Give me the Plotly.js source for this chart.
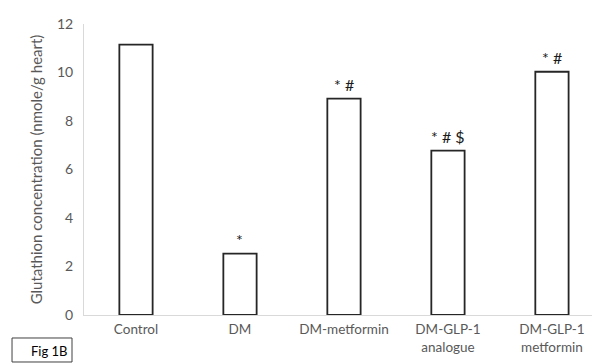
<!DOCTYPE html>
<html>
<head>
<meta charset="utf-8">
<script src="https://cdn.plot.ly/plotly-3.0.1.min.js"></script>
<style>html,body{margin:0;padding:0;background:#fff;}#chart{width:592px;height:363px;}</style>
</head>
<body>
<div id="chart"></div>
<script>
var categories = ["Control", "DM", "DM-metformin", "DM-GLP-1<br>analogue", "DM-GLP-1<br>metformin"];
var values = [11.15, 2.53, 8.92, 6.78, 10.03];
var markers = ["", "*", "* #", "* # $", "* #"];
var yTicks = [0, 2, 4, 6, 8, 10, 12];

var FONT = "Lato, 'Open Sans', sans-serif";
var GREY = "#595959";

var trace = {
  type: "bar",
  x: categories,
  y: values,
  width: 0.32,
  marker: {color: "#ffffff", line: {color: "#262626", width: 1.8}},
  hoverinfo: "none"
};

var annotations = categories.map(function (c, i) {
  return {
    x: c, y: values[i], xref: "x", yref: "y",
    text: markers[i], showarrow: false,
    yanchor: "bottom", yshift: 3,
    font: {family: FONT, size: 16, color: "#1a1a1a"}
  };
}).filter(function (a) { return a.text !== ""; });

annotations.push({
  xref: "paper", yref: "paper",
  x: -0.03, y: -0.122,
  xanchor: "right", yanchor: "middle",
  text: "Fig 1B", showarrow: false,
  font: {family: FONT, size: 13, color: "#000000"}
});

var layout = {
  width: 592, height: 363,
  margin: {l: 84, r: 0, t: 24, b: 48},
  paper_bgcolor: "#ffffff", plot_bgcolor: "#ffffff",
  showlegend: false,
  bargap: 0,
  xaxis: {
    type: "category",
    range: [-0.5, 4.385],
    showgrid: false, zeroline: false,
    showline: true, linecolor: "#d9d9d9", linewidth: 1,
    ticks: "",
    ticklabelstandoff: 2,
    tickfont: {family: FONT, size: 13.5, color: GREY},
    fixedrange: true
  },
  yaxis: {
    range: [0, 12],
    tickvals: yTicks,
    ticktext: yTicks.map(String),
    showgrid: false, zeroline: false,
    showline: true, linecolor: "#d9d9d9", linewidth: 1,
    ticks: "",
    ticklabelstandoff: 7,
    tickfont: {family: FONT, size: 14, color: GREY},
    title: {text: "Glutathion concentration (nmole/g heart)", standoff: 10,
            font: {family: FONT, size: 15, color: GREY}},
    fixedrange: true
  },
  annotations: annotations,
  shapes: [{
    type: "rect", xref: "paper", yref: "paper",
    x0: -0.1417, x1: -0.0236, y0: -0.1615, y1: -0.079,
    line: {color: "#404040", width: 1}, fillcolor: "rgba(0,0,0,0)"
  }]
};

Plotly.newPlot("chart", [trace], layout, {displayModeBar: false, staticPlot: true});
</script>
</body>
</html>
